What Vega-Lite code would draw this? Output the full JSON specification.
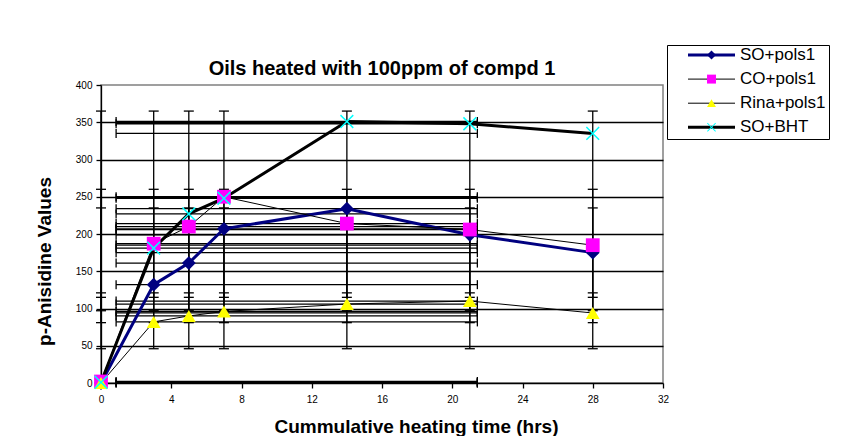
{
  "$schema": "https://vega.github.io/schema/vega-lite/v6.json",
  "width": 562,
  "height": 298,
  "autosize": {"type": "none"},
  "padding": {"left": 101, "top": 85, "right": 198, "bottom": 53},
  "background": "white",
  "title": {
    "text": "Oils heated with 100ppm of compd 1",
    "anchor": "middle",
    "frame": "group",
    "font": "Liberation Sans",
    "fontSize": 20,
    "fontWeight": "bold",
    "color": "black",
    "baseline": "alphabetic",
    "offset": -50
  },
  "config": {
    "view": {"stroke": "#808080", "strokeWidth": 1.5},
    "font": "Liberation Sans",
    "axisY": {"tickCount": 12}
  },
  "resolve": {"legend": {"stroke": "independent", "fill": "independent", "shape": "independent"}},
  "data": {
    "values": [
      {"series": "SO+pols1", "t": 0, "v": 0, "vlo": 81, "vhi": 235, "tlo": 0.86, "thi": 21.43},
      {"series": "SO+pols1", "t": 3, "v": 132, "vlo": 81, "vhi": 235, "tlo": 0.86, "thi": 21.43},
      {"series": "SO+pols1", "t": 5, "v": 161, "vlo": 81, "vhi": 235, "tlo": 0.86, "thi": 21.43},
      {"series": "SO+pols1", "t": 7, "v": 207, "vlo": 81, "vhi": 235, "tlo": 0.86, "thi": 21.43},
      {"series": "SO+pols1", "t": 14, "v": 234, "vlo": 81, "vhi": 235, "tlo": 0.86, "thi": 21.43},
      {"series": "SO+pols1", "t": 21, "v": 199, "vlo": 81, "vhi": 235, "tlo": 0.86, "thi": 21.43},
      {"series": "SO+pols1", "t": 28, "v": 175, "vlo": 81, "vhi": 235, "tlo": 0.86, "thi": 21.43},
      {"series": "CO+pols1", "t": 0, "v": 2, "vlo": 97, "vhi": 260, "tlo": 0.86, "thi": 21.43},
      {"series": "CO+pols1", "t": 3, "v": 187, "vlo": 97, "vhi": 260, "tlo": 0.86, "thi": 21.43},
      {"series": "CO+pols1", "t": 5, "v": 210, "vlo": 97, "vhi": 260, "tlo": 0.86, "thi": 21.43},
      {"series": "CO+pols1", "t": 7, "v": 250, "vlo": 97, "vhi": 260, "tlo": 0.86, "thi": 21.43},
      {"series": "CO+pols1", "t": 14, "v": 214, "vlo": 97, "vhi": 260, "tlo": 0.86, "thi": 21.43},
      {"series": "CO+pols1", "t": 21, "v": 206, "vlo": 97, "vhi": 260, "tlo": 0.86, "thi": 21.43},
      {"series": "CO+pols1", "t": 28, "v": 185, "vlo": 97, "vhi": 260, "tlo": 0.86, "thi": 21.43},
      {"series": "Rina+pols1", "t": 0, "v": 0, "vlo": 46, "vhi": 121, "tlo": 0.86, "thi": 21.43},
      {"series": "Rina+pols1", "t": 3, "v": 82, "vlo": 46, "vhi": 121, "tlo": 0.86, "thi": 21.43},
      {"series": "Rina+pols1", "t": 5, "v": 90, "vlo": 46, "vhi": 121, "tlo": 0.86, "thi": 21.43},
      {"series": "Rina+pols1", "t": 7, "v": 96, "vlo": 46, "vhi": 121, "tlo": 0.86, "thi": 21.43},
      {"series": "Rina+pols1", "t": 14, "v": 106, "vlo": 46, "vhi": 121, "tlo": 0.86, "thi": 21.43},
      {"series": "Rina+pols1", "t": 21, "v": 110, "vlo": 46, "vhi": 121, "tlo": 0.86, "thi": 21.43},
      {"series": "Rina+pols1", "t": 28, "v": 94, "vlo": 46, "vhi": 121, "tlo": 0.86, "thi": 21.43},
      {"series": "SO+BHT", "t": 0, "v": 1, "vlo": 115, "vhi": 365, "tlo": 0.86, "thi": 21.43},
      {"series": "SO+BHT", "t": 3, "v": 181, "vlo": 115, "vhi": 365, "tlo": 0.86, "thi": 21.43},
      {"series": "SO+BHT", "t": 5, "v": 227, "vlo": 115, "vhi": 365, "tlo": 0.86, "thi": 21.43},
      {"series": "SO+BHT", "t": 7, "v": 248, "vlo": 115, "vhi": 365, "tlo": 0.86, "thi": 21.43},
      {"series": "SO+BHT", "t": 14, "v": 351, "vlo": 115, "vhi": 365, "tlo": 0.86, "thi": 21.43},
      {"series": "SO+BHT", "t": 21, "v": 348, "vlo": 115, "vhi": 365, "tlo": 0.86, "thi": 21.43},
      {"series": "SO+BHT", "t": 28, "v": 335, "vlo": 115, "vhi": 365, "tlo": 0.86, "thi": 21.43}
    ]
  },
  "layer": [
    {
      "mark": {"type": "rule", "color": "black", "strokeWidth": 1.3},
      "encoding": {
        "x": {
          "field": "t", "type": "quantitative",
          "scale": {"domain": [0, 32], "nice": false, "zero": false},
          "title": "Cummulative heating time (hrs)",
          "axis": {
            "values": [0, 4, 8, 12, 16, 20, 24, 28, 32],
            "tickCount": 20,
            "grid": false,
            "domainColor": "black", "domainWidth": 1.3,
            "tickColor": "black", "tickWidth": 1.3, "tickSize": 5,
            "labelFont": "Liberation Sans", "labelFontSize": 10, "labelColor": "black",
            "labelPadding": 6, "labelFlush": false, "labelOverlap": false,
            "titleFont": "Liberation Sans", "titleFontSize": 19, "titleFontWeight": "bold", "titleColor": "black",
            "titleX": 315, "titleY": 49, "titleBaseline": "alphabetic", "titleAlign": "center"
          }
        },
        "y": {
          "field": "vlo", "type": "quantitative",
          "scale": {"domain": [0, 400], "nice": false, "zero": false},
          "title": "p-Anisidine Values",
          "axis": {
            "values": [0, 50, 100, 150, 200, 250, 300, 350, 400],
            "tickCount": 12,
            "grid": true,
            "gridColor": {"condition": {"test": "datum.value === 0 || datum.value === 400", "value": "transparent"}, "value": "black"},
            "gridWidth": 1.3,
            "domainColor": "black", "domainWidth": 1.3,
            "tickColor": "black", "tickWidth": 1.3, "tickSize": 5,
            "labelFont": "Liberation Sans", "labelFontSize": 10, "labelColor": "black",
            "labelPadding": 4, "labelFlush": false, "labelOverlap": false,
            "titleFont": "Liberation Sans", "titleFontSize": 19, "titleFontWeight": "bold", "titleColor": "black",
            "titleX": -51, "titleY": 176, "titleBaseline": "alphabetic", "titleAlign": "center", "titleAngle": 270
          }
        },
        "y2": {"field": "vhi"}
      }
    },
    {
      "mark": {"type": "tick", "orient": "horizontal", "color": "black", "size": 10, "thickness": 1.3, "opacity": 1},
      "encoding": {
        "x": {"field": "t", "type": "quantitative", "title": "Cummulative heating time (hrs)"},
        "y": {"field": "vlo", "type": "quantitative", "title": "p-Anisidine Values"}
      }
    },
    {
      "mark": {"type": "tick", "orient": "horizontal", "color": "black", "size": 10, "thickness": 1.3, "opacity": 1},
      "encoding": {
        "x": {"field": "t", "type": "quantitative", "title": "Cummulative heating time (hrs)"},
        "y": {"field": "vhi", "type": "quantitative", "title": "p-Anisidine Values"}
      }
    },
    {
      "mark": {"type": "rule", "color": "black", "strokeWidth": 1.3},
      "encoding": {
        "x": {"field": "tlo", "type": "quantitative", "title": "Cummulative heating time (hrs)"},
        "x2": {"field": "thi"},
        "y": {"field": "v", "type": "quantitative", "title": "p-Anisidine Values"}
      }
    },
    {
      "mark": {"type": "tick", "orient": "vertical", "color": "black", "size": 9, "thickness": 1.3, "opacity": 1},
      "encoding": {
        "x": {"field": "tlo", "type": "quantitative", "title": "Cummulative heating time (hrs)"},
        "y": {"field": "v", "type": "quantitative", "title": "p-Anisidine Values"}
      }
    },
    {
      "mark": {"type": "tick", "orient": "vertical", "color": "black", "size": 9, "thickness": 1.3, "opacity": 1},
      "encoding": {
        "x": {"field": "thi", "type": "quantitative", "title": "Cummulative heating time (hrs)"},
        "y": {"field": "v", "type": "quantitative", "title": "p-Anisidine Values"}
      }
    },
    {
      "mark": {"type": "line"},
      "encoding": {
        "x": {"field": "t", "type": "quantitative", "title": "Cummulative heating time (hrs)"},
        "y": {"field": "v", "type": "quantitative", "title": "p-Anisidine Values"},
        "stroke": {
          "field": "series", "type": "nominal",
          "scale": {"domain": ["SO+pols1", "CO+pols1", "Rina+pols1", "SO+BHT"], "range": ["#000080", "#000000", "#000000", "#000000"]},
          "legend": {
            "orient": "none", "legendX": 566, "legendY": -40,
            "title": null,
            "symbolType": "stroke", "symbolSize": 2209,
            "symbolOffset": 33, "labelOffset": 20,
            "labelFont": "Liberation Sans", "labelFontSize": 17, "labelColor": "black", "labelLimit": 300,
            "strokeColor": "black", "fillColor": "white", "padding": 3,
            "clipHeight": 14, "rowPadding": 7.1,
            "encode": {
              "symbols": {
                "update": {
                  "strokeWidth": {"signal": "datum.value === 'SO+pols1' || datum.value === 'SO+BHT' ? 3 : 1"}
                }
              }
            }
          }
        },
        "strokeWidth": {
          "field": "series", "type": "nominal",
          "scale": {"type": "ordinal", "domain": ["SO+pols1", "CO+pols1", "Rina+pols1", "SO+BHT"], "range": [3, 1, 1, 3]},
          "legend": null
        }
      }
    },
    {
      "mark": {"type": "point", "filled": true, "size": 190, "strokeWidth": 0, "opacity": 1},
      "encoding": {
        "x": {"field": "t", "type": "quantitative", "title": "Cummulative heating time (hrs)"},
        "y": {"field": "v", "type": "quantitative", "title": "p-Anisidine Values"},
        "fill": {
          "field": "series", "type": "nominal",
          "scale": {"domain": ["SO+pols1", "CO+pols1", "Rina+pols1", "SO+BHT"], "range": ["#000080", "#FF00FF", "#FFFF00", "#00FFFF"]},
          "legend": {
            "orient": "none", "legendX": 566, "legendY": -40,
            "title": null,
            "symbolSize": 80, "symbolStrokeWidth": 0,
            "symbolOffset": 33,
            "labelFont": "Liberation Sans", "labelFontSize": 17, "labelExpr": "''",
            "padding": 3, "clipHeight": 14, "rowPadding": 7.1
          }
        },
        "shape": {
          "field": "series", "type": "nominal",
          "scale": {"domain": ["SO+pols1", "CO+pols1", "Rina+pols1", "SO+BHT"], "range": ["diamond", "square", "triangle-up", "M-1,-0.85L-0.15,0L-1,0.85L-0.85,1L0,0.15L0.85,1L1,0.85L0.15,0L1,-0.85L0.85,-1L0,-0.15L-0.85,-1Z"]}
        }
      }
    }
  ]
}
